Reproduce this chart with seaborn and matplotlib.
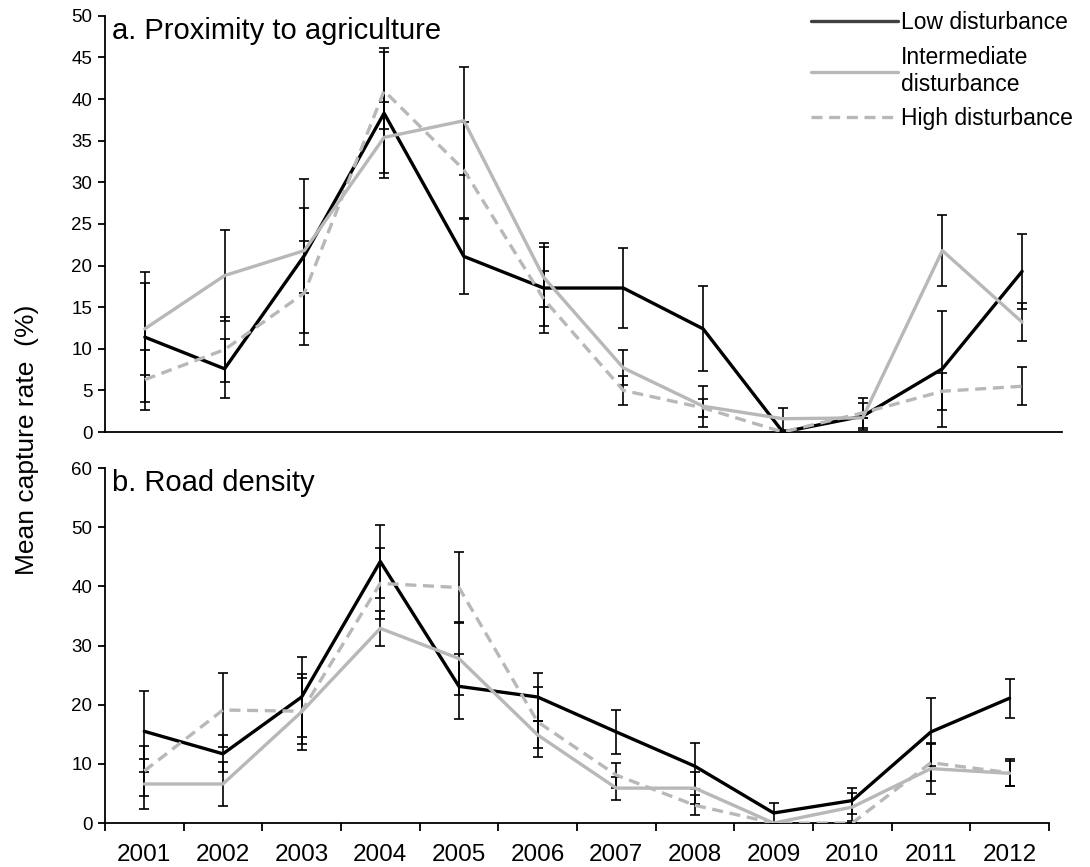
import matplotlib as mpl
mpl.use('agg')
import matplotlib.pyplot as plt
import pandas as pd
import seaborn as sns

# data
years = [2001, 2002, 2003, 2004, 2005, 2006, 2007, 2008, 2009, 2010, 2011, 2012]
groups = ['Low disturbance', 'Intermediate\ndisturbance', 'High disturbance']

# a. Proximity to agriculture
a_low = [11.4, 7.6, 21.2, 38.3, 21.1, 17.3, 17.3, 12.4, 0.0, 1.9, 7.6, 19.3]
a_low_err = [7.85, 3.55, 9.25, 7.8, 4.5, 5.4, 4.85, 5.1, 0.0, 1.6, 7.0, 4.55]
a_int = [12.4, 18.8, 21.8, 35.4, 37.4, 18.6, 7.7, 3.1, 1.6, 1.7, 21.8, 13.2]
a_int_err = [5.5, 5.5, 5.1, 4.3, 6.5, 3.6, 2.1, 2.45, 1.3, 0.0, 4.3, 2.3]
a_high = [6.3, 9.9, 16.7, 41.0, 31.5, 16.0, 5.0, 2.9, 0.0, 2.3, 4.9, 5.5]
a_high_err = [3.6, 3.9, 6.3, 4.6, 5.8, 3.3, 1.75, 1.1, 0.0, 1.8, 2.25, 2.3]

# b. Road density
b_low = [15.5, 11.7, 21.3, 44.2, 23.1, 21.3, 15.4, 9.6, 1.7, 3.8, 15.4, 21.1]
b_low_err = [6.85, 3.15, 6.8, 6.2, 5.5, 4.0, 3.7, 3.9, 1.7, 2.2, 5.7, 3.3]
b_int = [6.6, 6.6, 18.8, 32.9, 27.8, 14.9, 5.9, 5.9, 0.0, 2.7, 9.2, 8.4]
b_int_err = [4.3, 3.7, 6.4, 2.9, 6.1, 2.3, 1.95, 2.7, 0.0, 2.3, 4.3, 2.1]
b_high = [8.8, 19.1, 18.9, 40.5, 39.8, 17.1, 8.1, 3.0, 0.0, 0.0, 10.2, 8.5]
b_high_err = [4.3, 6.2, 5.6, 6.0, 6.0, 5.9, 2.1, 1.7, 0.0, 0.0, 3.1, 2.3]

panels = [
    ('a. Proximity to agriculture', [a_low, a_int, a_high], [a_low_err, a_int_err, a_high_err], 50, 5),
    ('b. Road density', [b_low, b_int, b_high], [b_low_err, b_int_err, b_high_err], 60, 10),
]

sns.set_style('ticks')
plt.rcParams['font.family'] = ['Liberation Sans', 'DejaVu Sans']
plt.rcParams['axes.linewidth'] = 1.3
for k in ['text.color', 'axes.labelcolor', 'xtick.color', 'ytick.color', 'axes.edgecolor']:
    plt.rcParams[k] = 'black'

palette = {groups[0]: 'black', groups[1]: '#b8b8b8', groups[2]: '#b8b8b8'}
dashes = {groups[0]: '', groups[1]: '', groups[2]: (3.3, 2)}

fig = plt.figure(figsize=(10.9, 8.67), dpi=100)
ax_a = fig.add_axes([0.0963, 0.5017, 0.878, 0.480])
ax_b = fig.add_axes([0.0963, 0.0507, 0.866, 0.4095])

for ax, (title, means, errs, ymax, ystep) in zip([ax_a, ax_b], panels):
    rows = []
    for g, m in zip(groups, means):
        for yr, v in zip(years, m):
            rows.append({'year': yr, 'rate': v, 'group': g})
    df = pd.DataFrame(rows)

    # error bars (all black, behind the lines)
    for m, e in zip(means, errs):
        ax.errorbar(years, m, yerr=e, fmt='none', ecolor='black',
                    elinewidth=1.2, capsize=3.6, capthick=1.2, zorder=1)

    sns.lineplot(data=df, x='year', y='rate', hue='group', style='group',
                 palette=palette, dashes=dashes, hue_order=groups,
                 style_order=groups, linewidth=2.4, ax=ax, zorder=3)

    ax.set_xlim(2000.5, 2012.5)
    ax.set_ylim(0, ymax)
    ax.set_yticks(range(0, ymax + 1, ystep))
    ax.tick_params(axis='y', labelsize=13.5, length=5, width=1.3, pad=4)
    ax.set_xlabel('')
    ax.set_ylabel('')
    ax.text(0.007, 0.997, title, transform=ax.transAxes, ha='left', va='top', fontsize=21)
    sns.despine(ax=ax)

handles, labels = ax_b.get_legend_handles_labels()
ax_a.get_legend().remove()
ax_b.get_legend().remove()
handles[0].set_color('#404040')

# top panel: plain bottom axis; bottom panel: ticks between years
ax_a.set_xticks([])
ax_b.set_xticks(years)
ax_b.set_xticklabels([str(y) for y in years])
ax_b.set_xticks([y + 0.5 for y in [2000] + years], minor=True)
ax_b.tick_params(axis='x', which='major', length=0, labelsize=17.5, pad=15)
ax_b.tick_params(axis='x', which='minor', length=6, width=1.3)

fig.legend(handles, labels, loc='upper right', bbox_to_anchor=(0.995, 1.0),
           frameon=False, fontsize=16.5, handlelength=3.8, handletextpad=0.15,
           labelspacing=0.5, borderaxespad=0.1)

fig.text(0.025, 0.4925, 'Mean capture rate  (%)', rotation=90,
         ha='center', va='center', fontsize=19)

plt.savefig('out.png', dpi=100)
